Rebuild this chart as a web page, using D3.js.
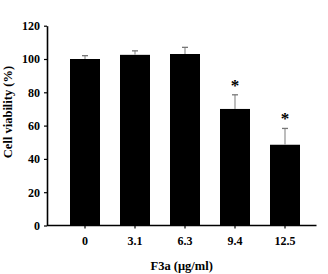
<!DOCTYPE html>
<html>
<head>
<meta charset="UTF-8">
<script src="https://d3js.org/d3.v7.min.js"></script>
<style>
body{ margin:0; background:white; }
text{ font-family: "Liberation Serif", "Times New Roman", serif; font-weight:bold; fill:black; }
</style>
</head>
<body>
<svg width="328" height="274"></svg>
<script>
// data
const doses = ["0", "3.1", "6.3", "9.4", "12.5"]
const viability = [100, 102.5, 103, 70, 48.5]
const errors = [2, 2.4, 4, 8.5, 9.8]
const significant = [false, false, false, true, true]
const yTicks = [0, 20, 40, 60, 80, 100, 120]

const svg = d3.select("svg")

const x = d3.scaleBand()
	.domain(doses)
	.range([47.5, 322.5])
	.paddingInner(0.4)
	.paddingOuter(0.45)

const y = d3.scaleLinear()
	.domain([0, 120])
	.range([225.5, 25.7])

const data = doses.map(function(d, i){
	return {dose: d, value: viability[i], err: errors[i], star: significant[i]}
})

// bars
svg.selectAll(".bar")
	.data(data)
	.join("rect")
	.attr("class", "bar")
	.attr("x", function(d){ return x(d.dose) })
	.attr("y", function(d){ return y(d.value) })
	.attr("width", x.bandwidth())
	.attr("height", function(d){ return y(0) - y(d.value) })
	.style("fill", "black")

// error bars (only the upper half shows above the bar)
const errG = svg.selectAll(".err")
	.data(data)
	.join("g")
	.attr("class", "err")
	.attr("transform", function(d){ return "translate(" + (x(d.dose) + x.bandwidth()/2) + ",0)" })

errG.append("line")
	.attr("x1", 0).attr("x2", 0)
	.attr("y1", function(d){ return y(d.value) })
	.attr("y2", function(d){ return y(d.value + d.err) })
	.style("stroke", "#999")
	.style("stroke-width", 1.3)

errG.append("line")
	.attr("x1", -3).attr("x2", 3)
	.attr("y1", function(d){ return y(d.value + d.err) })
	.attr("y2", function(d){ return y(d.value + d.err) })
	.style("stroke", "#777")
	.style("stroke-width", 1.3)

errG.filter(function(d){ return d.star })
	.append("text")
	.attr("text-anchor", "middle")
	.attr("y", function(d){ return y(d.value + d.err) - 4 })
	.style("font-size", "17px")
	.text("*")

// y axis
const yAxis = svg.append("g")
	.attr("transform", "translate(47,0)")
	.call(d3.axisLeft(y).tickValues(yTicks).tickSize(3).tickSizeOuter(0).tickPadding(4))
yAxis.select(".domain").style("stroke-width", 1.6)
yAxis.selectAll(".tick line").style("stroke-width", 1.2)
yAxis.selectAll("text").attr("font-family", null).style("font-size", "12px")

// x axis
const xAxis = svg.append("g")
	.attr("transform", "translate(0," + y(0) + ")")
	.call(d3.axisBottom(x).tickSize(3).tickSizeOuter(0).tickPadding(8))
xAxis.select(".domain")
	.attr("d", "M" + 47 + ",0H" + (x.range()[1] - 6))
	.style("stroke-width", 1.6)
xAxis.selectAll(".tick line").style("stroke-width", 1.2)
xAxis.selectAll("text").attr("font-family", null).style("font-size", "12px")

// titles
svg.append("text")
	.attr("x", (47 + x.range()[1] - 6) / 2)
	.attr("y", 270)
	.attr("text-anchor", "middle")
	.style("font-size", "12.5px")
	.text("F3a (μg/ml)")

svg.append("text")
	.attr("transform", "translate(12,112) rotate(-90)")
	.attr("text-anchor", "middle")
	.style("font-size", "12.5px")
	.text("Cell viability (%)")
</script>
</body>
</html>
